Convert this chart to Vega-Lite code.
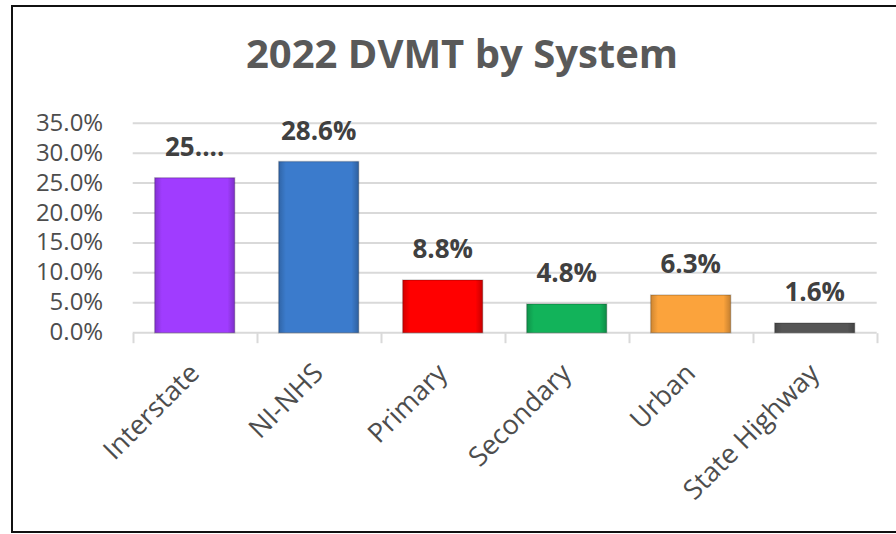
{
  "$schema": "https://vega.github.io/schema/vega-lite/v6.json",
  "width": 900,
  "height": 526,
  "autosize": {"type": "none"},
  "padding": {"left": 12, "top": 6, "right": 0, "bottom": 2},
  "background": "white",
  "title": {
    "text": "2022 DVMT by System",
    "anchor": "middle",
    "frame": "group",
    "offset": -70,
    "font": "Open Sans",
    "fontSize": 40,
    "fontWeight": "bold",
    "color": "#595959"
  },
  "config": {"view": {"stroke": "#111111", "strokeWidth": 2}},
  "layer": [
    {
      "data": {"values": [
        {"g": 0, "a": 0, "b": 6},
        {"g": 0.05, "a": 0, "b": 6},
        {"g": 0.10, "a": 0, "b": 6},
        {"g": 0.15, "a": 0, "b": 6},
        {"g": 0.20, "a": 0, "b": 6},
        {"g": 0.25, "a": 0, "b": 6},
        {"g": 0.30, "a": 0, "b": 6},
        {"g": 0.35, "a": 0, "b": 6}
      ]},
      "mark": {"type": "rule", "color": "#d9d9d9", "strokeWidth": 2},
      "encoding": {
        "x": {"field": "a", "type": "quantitative", "scale": {"domain": [-0.9734, 6.2847], "nice": false, "zero": false}, "axis": null},
        "x2": {"field": "b"},
        "y": {
          "field": "g",
          "type": "quantitative",
          "scale": {"domain": [-0.3331, 0.546], "nice": false, "zero": false},
          "axis": {
            "orient": "left",
            "offset": -120.7,
            "title": null,
            "values": [0, 0.05, 0.10, 0.15, 0.20, 0.25, 0.30, 0.35],
            "format": ".1%",
            "domain": false,
            "ticks": false,
            "grid": false,
            "labelPadding": 30,
            "labelFont": "Open Sans",
            "labelFontSize": 24,
            "labelColor": "#4d4d4d"
          }
        }
      }
    },
    {
      "data": {"name": "main", "values": [
        {"system": "Interstate", "share": 0.259, "label": "25...."},
        {"system": "NI-NHS", "share": 0.286, "label": "28.6%"},
        {"system": "Primary", "share": 0.088, "label": "8.8%"},
        {"system": "Secondary", "share": 0.048, "label": "4.8%"},
        {"system": "Urban", "share": 0.063, "label": "6.3%"},
        {"system": "State Highway", "share": 0.016, "label": "1.6%"}
      ]},
      "encoding": {
        "x": {
          "field": "system",
          "type": "nominal",
          "sort": null,
          "scale": {"paddingInner": 0, "paddingOuter": 0.629, "align": 0.7737},
          "axis": {
            "orient": "bottom",
            "offset": -199.3,
            "title": null,
            "domain": false,
            "ticks": true,
            "tickBand": "extent",
            "tickSize": 10,
            "tickColor": "#d9d9d9",
            "tickWidth": 2,
            "labelAngle": -45,
            "labelAlign": "right",
            "labelBaseline": "middle",
            "labelPadding": 26,
            "labelFont": "Open Sans",
            "labelFontSize": 27,
            "labelColor": "#4d4d4d",
            "labelOverlap": false,
            "labelBound": false
          }
        },
        "y": {
          "field": "share",
          "type": "quantitative"
        }
      },
      "layer": [
        {
          "mark": {"type": "bar", "width": {"band": 0.645}, "stroke": "#00000030", "strokeWidth": 1.5},
          "encoding": {
            "y2": {"datum": 0},
            "color": {
              "field": "system",
              "type": "nominal",
              "scale": {
                "domain": ["Interstate", "NI-NHS", "Primary", "Secondary", "Urban", "State Highway"],
                "range": ["#a03cff", "#3b7bcc", "#ff0000", "#12b35a", "#fba33c", "#555555"]
              },
              "legend": null
            }
          }
        },
        {
          "mark": {
            "type": "bar",
            "width": {"band": 0.645},
            "fill": {
              "gradient": "linear",
              "x1": 0, "y1": 0, "x2": 1, "y2": 0,
              "stops": [
                {"offset": 0, "color": "rgba(0,0,0,0.18)"},
                {"offset": 0.09, "color": "rgba(0,0,0,0.0)"},
                {"offset": 0.91, "color": "rgba(0,0,0,0.0)"},
                {"offset": 1, "color": "rgba(0,0,0,0.22)"}
              ]
            }
          },
          "encoding": {
            "y2": {"datum": 0}
          }
        },
        {
          "mark": {"type": "text", "font": "Open Sans", "fontSize": 26, "fontWeight": "bold", "color": "#404040", "baseline": "alphabetic", "dy": -22},
          "encoding": {
            "text": {"field": "label"}
          }
        }
      ]
    }
  ],
  "resolve": {"scale": {"x": "independent"}, "axis": {"x": "independent"}}
}
